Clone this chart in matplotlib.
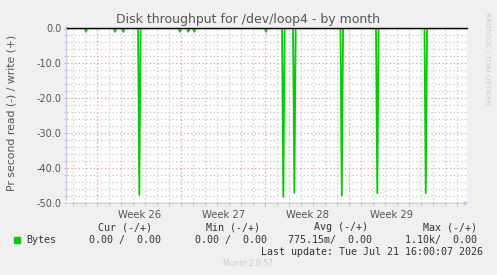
import numpy as np
import matplotlib
matplotlib.use("Agg")
import matplotlib.pyplot as plt

# time axis in days since left edge of the graph (about 33 days shown)
span_days = 33.33
week_starts = [2.55, 9.55, 16.55, 23.55]
week_labels = ["Week 26", "Week 27", "Week 28", "Week 29"]

# small read blips and big read spikes (negative = read)
blip_days = [1.61, 4.03, 4.72, 9.44, 10.13, 10.63, 16.61]
blip_vals = [-1.0, -1.0, -1.0, -1.0, -1.0, -1.0, -1.0]
spike_days = [6.05, 18.05, 18.97, 22.92, 25.88, 29.92]
spike_vals = [-47.6, -48.1, -47.0, -47.8, -47.1, -47.1]

legend_cols = ["Cur (-/+)", "Min (-/+)", "Avg (-/+)", "Max (-/+)"]
legend_vals = ["0.00 /  0.00", "0.00 /  0.00", "775.15m/  0.00", "1.10k/  0.00"]
last_update = "Last update: Tue Jul 21 16:00:07 2026"

W, H = 497, 275
fig = plt.figure(figsize=(W / 100, H / 100), dpi=100)
fig.patch.set_facecolor("#f0f0f0")

x0, x1, ytop, ybot = 66.7, 466.7, 28.3, 203.3
ax = fig.add_axes([x0 / W, 1 - ybot / H, (x1 - x0) / W, (ybot - ytop) / H])
ax.set_facecolor("white")
ax.set_xlim(0, span_days)
ax.set_ylim(-50, 0)

# build the series: each event is a narrow V going down from 0
dt = 1.3 / 12.0
t = [0.0]
v = [0.0]
events = sorted(zip(blip_days + spike_days, blip_vals + spike_vals))
for d, val in events:
    t += [d - dt, d, d + dt]
    v += [0.0, val, 0.0]
t.append(span_days)
v.append(0.0)
ax.plot(t, v, color="#00cc00", lw=1.3, zorder=4)
ax.plot([0, span_days], [0, 0], color="black", lw=1.0, zorder=5, clip_on=False)

# grid
ax.set_xticks(week_starts)
ax.set_xticklabels([])
days = np.arange(week_starts[0] - 2, span_days, 1.0)
ax.set_xticks(days, minor=True)
ax.set_yticks(np.arange(-50, 1, 10))
ax.set_yticklabels([f"{y:.1f}" for y in np.arange(-50, 1, 10)])
ax.set_yticks(np.arange(-50, 1, 2), minor=True)
ax.grid(which="minor", color="#c8c8c8", ls=(0, (1, 2)), lw=0.9)
ax.grid(which="major", color="#eb9a9a", ls=(0, (1, 2)), lw=0.9)
ax.set_axisbelow(True)
ax.tick_params(which="both", length=2, width=0.6, colors="#f09090", labelcolor="#555555", labelsize=7, pad=2)
ax.tick_params(which="minor", colors="#bbbbbb")
for s in ax.spines.values():
    s.set_visible(False)

for ws, lab in zip(week_starts, week_labels):
    ax.text(ws + 3.5, -52.0, lab, ha="center", va="top", fontsize=7.2, color="#555555")

# axis lines with arrows
axis_col = "#c8c8f4"
ax.annotate("", xy=(0, 1.035), xytext=(0, 0), xycoords="axes fraction",
            arrowprops=dict(arrowstyle="-|>", color=axis_col, lw=0.8, mutation_scale=6))
ax.annotate("", xy=(1.012, 0), xytext=(0, 0), xycoords="axes fraction",
            arrowprops=dict(arrowstyle="-|>", color=axis_col, lw=0.8, mutation_scale=6))

fig.text(248 / W, 1 - 19 / H, "Disk throughput for /dev/loop4 - by month", ha="center", va="center",
         fontsize=9.0, color="#555555")
fig.text(12 / W, 1 - 113 / H, "Pr second read (-) / write (+)", rotation=90, ha="center", va="center",
         fontsize=7.8, color="#555555")
fig.text(487 / W, 1 - 58 / H, "RRDTOOL / TOBI OETIKER", rotation=270, ha="center", va="center",
         fontsize=5.2, color="#cccccc")

mono = dict(family="DejaVu Sans Mono", fontsize=7.2, color="#333333")
col_right = [152, 260, 368, 477]
val_right = [160.7, 266.7, 371.7, 476.7]
for xr, lab in zip(col_right, legend_cols):
    fig.text(xr / W, 1 - 227.5 / H, lab, ha="right", va="center", **mono)
fig.patches.append(plt.Rectangle((14 / W, 1 - 243 / H), 6 / W, 6 / H, transform=fig.transFigure,
                                 color="#00cc00", figure=fig))
fig.text(26.7 / W, 1 - 240 / H, "Bytes", ha="left", va="center", **mono)
for xr, val in zip(val_right, legend_vals):
    fig.text(xr / W, 1 - 240 / H, val, ha="right", va="center", **mono)
fig.text(482.7 / W, 1 - 252 / H, last_update, ha="right", va="center", **mono)
fig.text(248 / W, 1 - 264 / H, "Munin 2.0.57", ha="center", va="center", fontsize=5.5, color="#cccccc")

fig.savefig("out.png", dpi=100, facecolor=fig.get_facecolor())
